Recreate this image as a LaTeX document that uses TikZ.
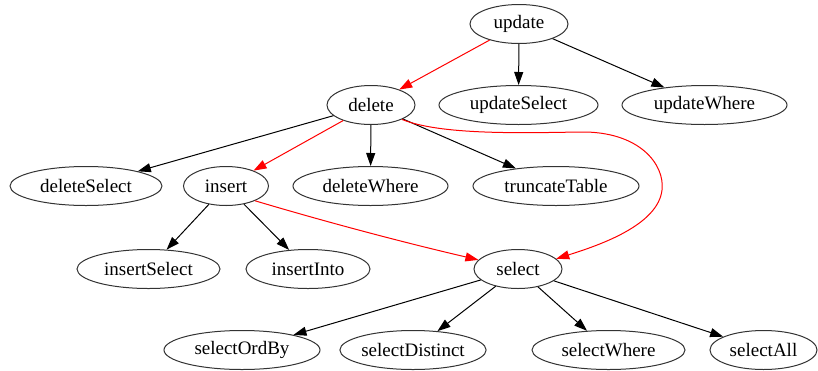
\documentclass[tikz,border=0pt]{standalone}
\usepackage{fontspec}
\setmainfont{Liberation Serif}
\usetikzlibrary{shapes.geometric,arrows.meta}
\begin{document}
\begin{tikzpicture}[x=1pt,y=-1pt,
  nd/.style={draw=black!80, ellipse, line width=1pt, inner sep=0pt, minimum height=39pt, font=\fontsize{19}{22}\selectfont},
  ed/.style={-{Triangle[length=13pt,width=9pt]}, line width=1pt, black},
  rededge/.style={ed, red}]
\useasboundingbox (0,0) rectangle (818,370);
% row 1
\node[nd, minimum width=98pt] (update) at (519,24) {update};
% row 2
\node[nd, minimum width=88pt] (delete) at (371,105) {delete};
\node[nd, minimum width=159pt] (updateSelect) at (518.5,105) {updateSelect};
\node[nd, minimum width=165pt] (updateWhere) at (704.5,105) {updateWhere};
% row 3
\node[nd, minimum width=152pt] (deleteSelect) at (86,186) {deleteSelect};
\node[nd, minimum width=85pt] (insert) at (226,186) {insert};
\node[nd, minimum width=155pt] (deleteWhere) at (370.5,186) {deleteWhere};
\node[nd, minimum width=166pt] (truncateTable) at (556,186) {truncateTable};
% row 4
\node[nd, minimum width=143pt] (insertSelect) at (148.5,269) {insertSelect};
\node[nd, minimum width=124pt] (insertInto) at (308,269) {insertInto};
\node[nd, minimum width=88pt] (select) at (518,269) {select};
% row 5
\node[nd, minimum width=156pt] (selectOrdBy) at (242,350) {selectOrdBy};
\node[nd, minimum width=140pt] (selectDistinct) at (413,350) {selectDistinct};
\node[nd, minimum width=153pt] (selectWhere) at (608.5,350) {selectWhere};
\node[nd, minimum width=107pt] (selectAll) at (763.5,350) {selectAll};
% edges
\draw[rededge] (update) -- (delete);
\draw[ed] (update) -- (updateSelect);
\draw[ed] (update) -- (updateWhere);
\draw[ed] (delete) -- (deleteSelect);
\draw[rededge] (delete) -- (insert);
\draw[ed] (delete) -- (deleteWhere);
\draw[ed] (delete) -- (truncateTable);
\draw[rededge] (delete.-25) .. controls (440,135) and (520,133) .. (580,132)
  .. controls (640,131) and (665,165) .. (662,190)
  .. controls (658,225) and (600,245) .. (select.15);
\draw[ed] (insert) -- (insertSelect);
\draw[ed] (insert) -- (insertInto);
\draw[rededge] (insert.-27) .. controls (333,224) and (410,244) .. (select.167);
\draw[ed] (select) -- (selectOrdBy);
\draw[ed] (select) -- (selectDistinct);
\draw[ed] (select) -- (selectWhere);
\draw[ed] (select) -- (selectAll);
\end{tikzpicture}
\end{document}
